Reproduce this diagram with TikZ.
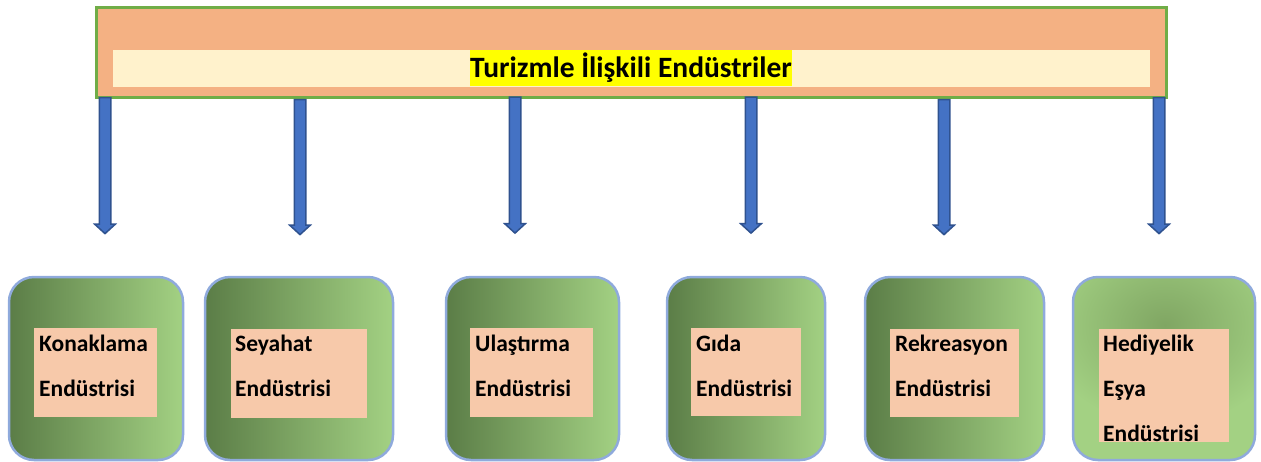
\documentclass[tikz,border=0pt]{standalone}
\usepackage{fontspec}
\setmainfont{Carlito}
\usetikzlibrary{shapes.arrows}
\definecolor{topfill}{HTML}{F4B183}
\definecolor{topline}{HTML}{70AD47}
\definecolor{band}{HTML}{FFF2CC}
\definecolor{hl}{HTML}{FFFF00}
\definecolor{arfill}{HTML}{4472C4}
\definecolor{arline}{HTML}{2F528F}
\definecolor{boxline}{HTML}{8FAADC}
\definecolor{gdark}{HTML}{5B7D47}
\definecolor{glight}{HTML}{A3D183}
\definecolor{gmid}{HTML}{80A663}
\definecolor{innerfill}{HTML}{F7C9AA}
\begin{document}
\begin{tikzpicture}[x=1pt,y=-1pt,
  barrow/.style={single arrow, draw=arline, fill=arfill, line width=1.5pt,
    single arrow head extend=4.5pt, single arrow tip angle=95,
    inner xsep=0pt, inner ysep=5pt, text height=0pt, text depth=0pt, rotate=-90},
  gbox/.style={rectangle, draw=boxline, line width=2.5pt, rounded corners=25pt,
    minimum height=183pt, inner sep=0pt},
  lbox/.style={gbox, left color=gdark, right color=glight},
  ibox/.style={rectangle, fill=innerfill, inner sep=0pt},
  lbl/.style={anchor=base west, inner sep=0pt, text width=150pt, align=left,
    font=\bfseries\fontsize{23.5}{45}\selectfont}
]
\useasboundingbox (0,0) rectangle (1261,461);

% top banner
\node[rectangle, draw=topline, fill=topfill, line width=3pt, minimum width=1070pt,
  minimum height=90pt, inner sep=0pt] (top) at (631,52) {};
\node[rectangle, fill=band, minimum width=1037pt, minimum height=37pt, inner sep=0pt]
  (band) at (631.5,68.5) {};
\node[rectangle, fill=hl, minimum width=322pt, minimum height=36pt, inner sep=0pt,
  text height=24pt, text depth=6pt, font=\bfseries\fontsize{29.5}{30}\selectfont]
  (title) at (631,68) {Turizmle İlişkili Endüstriler};

% arrows
\node[barrow, minimum height=136pt] (ar1) at (105,163) {};
\node[barrow, minimum height=135pt] (ar2) at (300,164.5) {};
\node[barrow, minimum height=136pt] (ar3) at (515,162.5) {};
\node[barrow, minimum height=136pt] (ar4) at (751,162.5) {};
\node[barrow, minimum height=135pt] (ar5) at (944,164.5) {};
\node[barrow, minimum height=136pt] (ar6) at (1159,163) {};

% bottom boxes
\node[lbox, minimum width=174pt] (b1) at (96,368.5) {};
\node[lbox, minimum width=188pt] (b2) at (299,368.5) {};
\node[lbox, minimum width=173pt] (b3) at (532.5,368.5) {};
\node[lbox, minimum width=158pt] (b4) at (746,368.5) {};
\node[lbox, minimum width=179pt] (b5) at (954.5,368.5) {};
\begin{scope}
  \clip[rounded corners=25pt] (1073,277) rectangle (1255,460);
  \fill[glight] (1073,277) rectangle (1255,460);
  \shade[inner color=gmid, outer color=glight] (1165,325) ellipse (125pt and 100pt);
\end{scope}
\node[gbox, minimum width=182pt] (b6) at (1164,368.5) {};

% inner boxes
\node[ibox, minimum width=123pt, minimum height=89pt] (i1) at (95.5,372.5) {};
\node[ibox, minimum width=136pt, minimum height=89pt] (i2) at (299,373.5) {};
\node[ibox, minimum width=123pt, minimum height=89pt] (i3) at (531.5,372.5) {};
\node[ibox, minimum width=110pt, minimum height=88pt] (i4) at (746,372) {};
\node[ibox, minimum width=129pt, minimum height=88pt] (i5) at (954.5,373) {};
\node[ibox, minimum width=130pt, minimum height=113pt] (i6) at (1164,385.5) {};

% labels
\node[lbl] (t1) at (39,351) {Konaklama\\Endüstrisi};
\node[lbl] (t2) at (235,351) {Seyahat\\Endüstrisi};
\node[lbl] (t3) at (475,351) {Ulaştırma\\Endüstrisi};
\node[lbl] (t4) at (696,351) {Gıda\\Endüstrisi};
\node[lbl] (t5) at (895,351) {Rekreasyon\\Endüstrisi};
\node[lbl] (t6) at (1103,351) {Hediyelik\\Eşya\\Endüstrisi};
\end{tikzpicture}
\end{document}
